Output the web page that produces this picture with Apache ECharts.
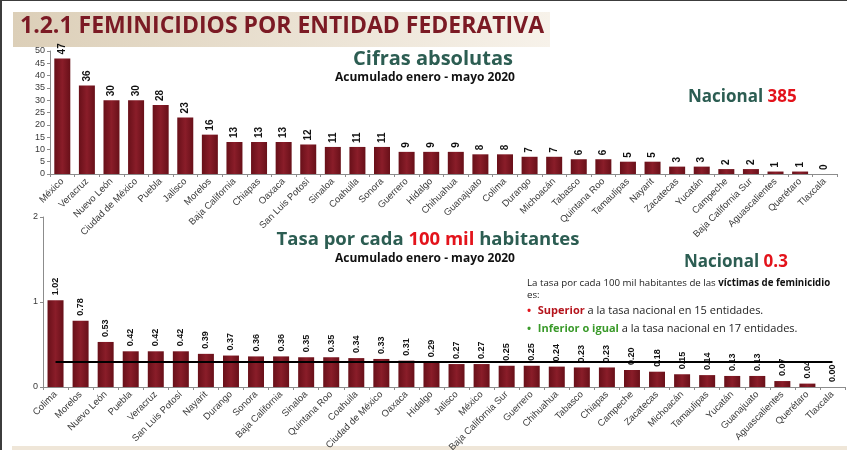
<!DOCTYPE html>
<html>
<head>
<meta charset="utf-8">
<script src="https://cdn.jsdelivr.net/npm/echarts@6/dist/echarts.min.js"></script>
<style>
  html, body { margin: 0; padding: 0; background: #fff; }
  #main { width: 847px; height: 450px; }
</style>
</head>
<body>
<div id="main"></div>
<script>
  // cifras absolutas, acumulado enero - mayo 2020
  let estadosAbs = ['México', 'Veracruz', 'Nuevo León', 'Ciudad de México', 'Puebla', 'Jalisco', 'Morelos',
    'Baja California', 'Chiapas', 'Oaxaca', 'San Luis Potosí', 'Sinaloa', 'Coahuila', 'Sonora', 'Guerrero',
    'Hidalgo', 'Chihuahua', 'Guanajuato', 'Colima', 'Durango', 'Michoacán', 'Tabasco', 'Quintana Roo',
    'Tamaulipas', 'Nayarit', 'Zacatecas', 'Yucatán', 'Campeche', 'Baja California Sur', 'Aguascalientes',
    'Querétaro', 'Tlaxcala'];
  let valoresAbs = [47, 36, 30, 30, 28, 23, 16, 13, 13, 13, 12, 11, 11, 11, 9, 9, 9, 8, 8, 7, 7, 6, 6, 5, 5, 3, 3, 2, 2, 1, 1, 0];

  // tasa por cada 100 mil habitantes
  let estadosTasa = ['Colima', 'Morelos', 'Nuevo León', 'Puebla', 'Veracruz', 'San Luis Potosí', 'Nayarit',
    'Durango', 'Sonora', 'Baja California', 'Sinaloa', 'Quintana Roo', 'Coahuila', 'Ciudad de México', 'Oaxaca',
    'Hidalgo', 'Jalisco', 'México', 'Baja California Sur', 'Guerrero', 'Chihuahua', 'Tabasco', 'Chiapas',
    'Campeche', 'Zacatecas', 'Michoacán', 'Tamaulipas', 'Yucatán', 'Guanajuato', 'Aguascalientes', 'Querétaro',
    'Tlaxcala'];
  let valoresTasa = [1.02, 0.78, 0.53, 0.42, 0.42, 0.42, 0.39, 0.37, 0.36, 0.36, 0.35, 0.35, 0.34, 0.33, 0.31,
    0.29, 0.27, 0.27, 0.25, 0.25, 0.24, 0.23, 0.23, 0.20, 0.18, 0.15, 0.14, 0.13, 0.13, 0.07, 0.04, 0.00];

  let nacionalAbs = 385;
  let nacionalTasa = 0.3;

  let vino = '#7b1a24';
  let verde = '#2c5d52';
  let rojo = '#e3131b';
  let fuente = 'Liberation Sans, Arial, sans-serif';
  let fuenteTitulo = 'Open Sans, sans-serif';

  let colorBarra = {
    type: 'linear', x: 0, y: 0, x2: 1, y2: 0,
    colorStops: [
      {offset: 0, color: '#681019'},
      {offset: 0.5, color: '#8a1d29'},
      {offset: 1, color: '#681019'}
    ]
  };

  function ejeX(datos, grid) {
    return {
      type: 'category',
      gridIndex: grid,
      data: datos,
      axisLine: {lineStyle: {color: '#8c8c8c'}},
      axisTick: {show: true, length: 3, lineStyle: {color: '#8c8c8c'}},
      axisLabel: {rotate: 45, interval: 0, fontSize: 9.5, color: '#3a3a3a', fontFamily: fuente, margin: 6}
    };
  }

  let chart = echarts.init(document.getElementById('main'));
  let option = {
    backgroundColor: '#ffffff',
    animation: false,
    grid: [
      {left: 50, right: 10, top: 51, bottom: 276, outerBoundsMode: 'none'},
      {left: 43, right: 2, top: 217, bottom: 63, outerBoundsMode: 'none'}
    ],
    xAxis: [ejeX(estadosAbs, 0), ejeX(estadosTasa, 1)],
    yAxis: [
      {
        type: 'value', gridIndex: 0, min: 0, max: 50, interval: 5,
        axisLine: {show: true, lineStyle: {color: '#8c8c8c'}},
        axisTick: {show: true, length: 3, lineStyle: {color: '#8c8c8c'}},
        splitLine: {show: false},
        axisLabel: {fontSize: 9, color: '#3a3a3a', fontFamily: fuente, margin: 5}
      },
      {
        type: 'value', gridIndex: 1, min: 0, max: 2, interval: 1,
        axisLine: {show: true, lineStyle: {color: '#8c8c8c'}},
        axisTick: {show: true, length: 3, lineStyle: {color: '#8c8c8c'}},
        splitLine: {show: false},
        axisLabel: {fontSize: 9, color: '#3a3a3a', fontFamily: fuente, margin: 5}
      }
    ],
    series: [
      {
        type: 'bar',
        xAxisIndex: 0, yAxisIndex: 0,
        data: valoresAbs,
        barWidth: 16,
        itemStyle: {color: colorBarra},
        label: {
          show: true, position: 'top', rotate: 90, align: 'left', verticalAlign: 'middle',
          distance: 4, fontSize: 10, fontWeight: 'bold', color: '#111', fontFamily: fuente
        }
      },
      {
        type: 'bar',
        xAxisIndex: 1, yAxisIndex: 1,
        data: valoresTasa,
        barWidth: 16,
        itemStyle: {color: colorBarra},
        label: {
          show: true, position: 'top', rotate: 90, align: 'left', verticalAlign: 'middle',
          distance: 5, fontSize: 9, fontWeight: 'bold', color: '#111', fontFamily: fuente,
          formatter: function (p) { return p.value.toFixed(2); }
        },
        markLine: {
          silent: true,
          symbol: 'none',
          label: {show: false},
          lineStyle: {color: '#000', width: 2, type: 'solid'},
          data: [[
            {xAxis: 0, yAxis: nacionalTasa},
            {xAxis: estadosTasa.length - 1, yAxis: nacionalTasa}
          ]]
        }
      }
    ],
    graphic: [
      // marco
      {type: 'rect', shape: {x: 0, y: 0, width: 847, height: 1}, style: {fill: '#3c3c3c'}},
      {type: 'rect', shape: {x: 0, y: 0, width: 2, height: 450}, style: {fill: '#3c3c3c'}},
      {type: 'rect', shape: {x: 12, y: 446, width: 835, height: 4}, style: {fill: '#efe6d8'}},
      // barra de titulo
      {
        type: 'rect', shape: {x: 13, y: 12, width: 537, height: 35},
        style: {
          fill: {
            type: 'linear', x: 0, y: 0, x2: 1, y2: 0,
            colorStops: [{offset: 0, color: '#dccfb8'}, {offset: 1, color: '#f7f2ea'}]
          }
        }
      },
      {
        type: 'text', left: 20, top: 15,
        style: {text: '1.2.1 FEMINICIDIOS POR ENTIDAD FEDERATIVA', fill: vino, font: 'bold 23px ' + fuenteTitulo}
      },
      {
        type: 'text', x: 433, y: 49,
        style: {text: 'Cifras absolutas', fill: verde, font: 'bold 20px ' + fuenteTitulo, align: 'center'}
      },
      {
        type: 'text', x: 425, y: 72,
        style: {text: 'Acumulado enero - mayo 2020', fill: '#111', font: 'bold 12px ' + fuenteTitulo, align: 'center'}
      },
      {
        type: 'text', x: 688, y: 89,
        style: {
          text: '{v|Nacional }{r|' + nacionalAbs + '}',
          rich: {
            v: {fill: verde, font: 'bold 17px ' + fuenteTitulo},
            r: {fill: rojo, font: 'bold 17px ' + fuenteTitulo}
          }
        }
      },
      {
        type: 'text', x: 428, y: 230,
        style: {
          text: '{v|Tasa por cada }{r|100 mil}{v| habitantes}',
          align: 'center',
          rich: {
            v: {fill: verde, font: 'bold 18.5px ' + fuenteTitulo},
            r: {fill: rojo, font: 'bold 18.5px ' + fuenteTitulo}
          }
        }
      },
      {
        type: 'text', x: 425, y: 253,
        style: {text: 'Acumulado enero - mayo 2020', fill: '#111', font: 'bold 12px ' + fuenteTitulo, align: 'center'}
      },
      {
        type: 'text', x: 684, y: 254,
        style: {
          text: '{v|Nacional }{r|' + nacionalTasa + '}',
          rich: {
            v: {fill: verde, font: 'bold 17px ' + fuenteTitulo},
            r: {fill: rojo, font: 'bold 17px ' + fuenteTitulo}
          }
        }
      },
      {
        type: 'text', x: 527, y: 277,
        style: {
          text: '{n|La tasa por cada 100 mil habitantes de las }{b|víctimas de feminicidio}\n{n|es:}',
          rich: {
            n: {fill: '#222', font: '9.7px ' + fuenteTitulo, lineHeight: 12},
            b: {fill: '#111', font: 'bold 9.7px ' + fuenteTitulo, lineHeight: 12}
          }
        }
      },
      {
        type: 'text', x: 527, y: 305,
        style: {
          text: '{p|•}  {r|Superior}{n| a la tasa nacional en 15 entidades.}',
          rich: {
            p: {fill: rojo, font: 'bold 11px ' + fuenteTitulo},
            r: {fill: '#b5141c', font: 'bold 11px ' + fuenteTitulo},
            n: {fill: '#222', font: '11px ' + fuenteTitulo}
          }
        }
      },
      {
        type: 'text', x: 527, y: 323,
        style: {
          text: '{p|•}  {g|Inferior o igual}{n| a la tasa nacional en 17 entidades.}',
          rich: {
            p: {fill: '#3a9a2a', font: 'bold 11px ' + fuenteTitulo},
            g: {fill: '#3a9a2a', font: 'bold 11px ' + fuenteTitulo},
            n: {fill: '#222', font: '11px ' + fuenteTitulo}
          }
        }
      }
    ]
  };
  chart.setOption(option);
</script>
</body>
</html>
